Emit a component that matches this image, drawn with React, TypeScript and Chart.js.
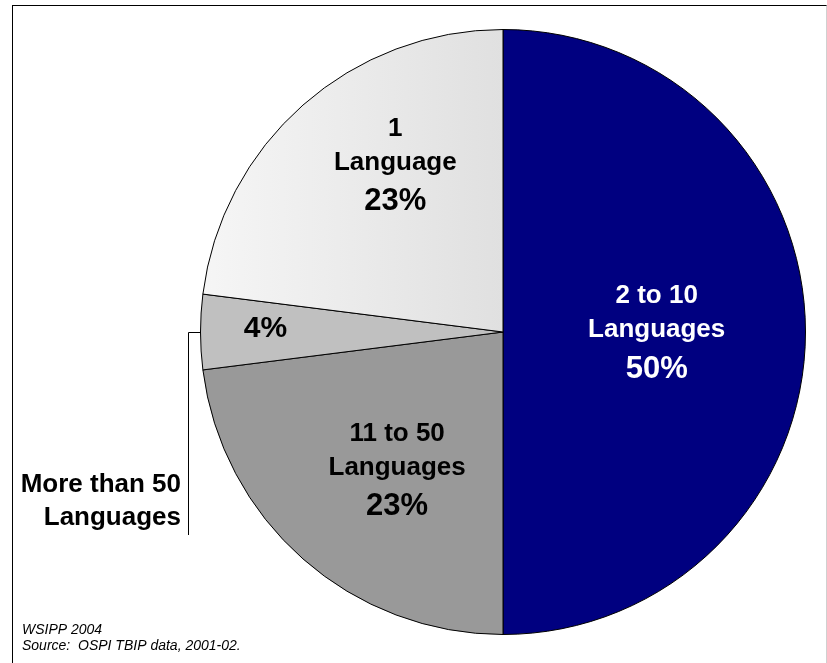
import React, { useEffect, useRef } from "react";
import { Chart, registerables } from "chart.js";

Chart.register(...registerables);

const categories = ["2 to 10 Languages", "11 to 50 Languages", "More than 50 Languages", "1 Language"];
const shares = [50, 23, 4, 23];
const sliceColors = ["#000080", "#999999", "#c0c0c0", "#e6e6e6"];
const labelLines = [["2 to 10", "Languages"], ["11 to 50", "Languages"], [], ["1", "Language"]];
const labelColors = ["#ffffff", "#000000", "#000000", "#000000"];
// label anchors as fractions of the radius, relative to the pie centre
const labelAnchors = [[0.508, 0.0], [-0.35, 0.455], [-0.785, -0.01], [-0.356, -0.554]];
const footnotes = ["WSIPP 2004", "Source:  OSPI TBIP data, 2001-02."];
const FONT = "'Liberation Sans', Arial, sans-serif";

const labelPlugin = {
  id: "sliceLabels",
  afterDatasetsDraw(chart: any) {
    const ctx = chart.ctx;
    const meta = chart.getDatasetMeta(0);
    const arc0 = meta.data[0];
    const cx = arc0.x, cy = arc0.y, r = arc0.outerRadius;
    ctx.save();
    ctx.textAlign = "center";
    ctx.textBaseline = "middle";
    shares.forEach((v, i) => {
      const ax = cx + labelAnchors[i][0] * r;
      const ay = cy + labelAnchors[i][1] * r;
      const lines = labelLines[i];
      ctx.fillStyle = labelColors[i];
      if (lines.length === 0) {
        ctx.font = `bold 30px ${FONT}`;
        ctx.fillText(`${v}%`, ax, ay);
      } else {
        ctx.font = `bold 26px ${FONT}`;
        ctx.fillText(lines[0], ax, ay - 36);
        ctx.fillText(lines[1], ax, ay - 2);
        ctx.font = `bold 31px ${FONT}`;
        ctx.fillText(`${v}%`, ax, ay + 37);
      }
    });
    // outside label for small slice with leader line
    const small = meta.data[2];
    const ex = cx - small.outerRadius;
    ctx.strokeStyle = "#000";
    ctx.lineWidth = 1;
    ctx.beginPath();
    ctx.moveTo(ex, Math.round(cy) + 0.5);
    ctx.lineTo(188.5, Math.round(cy) + 0.5);
    ctx.lineTo(188.5, 535);
    ctx.stroke();
    ctx.fillStyle = "#000";
    ctx.textAlign = "right";
    ctx.font = `bold 26px ${FONT}`;
    ctx.fillText("More than 50", 181, 485);
    ctx.fillText("Languages", 181, 518);
    // footnotes
    ctx.textAlign = "left";
    ctx.font = `italic 14px ${FONT}`;
    ctx.fillText(footnotes[0], 22, 630);
    ctx.fillText(footnotes[1], 22, 646);
    ctx.restore();
  },
};

export default function App() {
  const ref = useRef<HTMLCanvasElement>(null);
  useEffect(() => {
    if (!ref.current) return;
    const chart = new Chart(ref.current, {
      type: "pie",
      data: {
        labels: categories,
        datasets: [
          {
            data: shares,
            backgroundColor: (c: any) => {
              const i = c.dataIndex;
              if (i === 3 && c.chart.chartArea) {
                const g = c.chart.ctx.createLinearGradient(200, 0, 503, 0);
                g.addColorStop(0, "#f6f6f6");
                g.addColorStop(1, "#e0e0e0");
                return g;
              }
              return sliceColors[i];
            },
            borderColor: "#000000",
            borderWidth: 1,
          },
        ],
      },
      options: {
        animation: false,
        responsive: false,
        maintainAspectRatio: false,
        layout: { padding: { left: 200, right: 21, top: 29, bottom: 28 } },
        plugins: {
          legend: { display: false },
          tooltip: { enabled: false },
        },
      },
      plugins: [labelPlugin],
    });
    return () => chart.destroy();
  }, []);
  return (
    <div style={{ position: "fixed", left: 0, top: 0, width: 827, height: 663, background: "#fff", overflow: "hidden" }}>
      <div
        style={{
          position: "absolute",
          left: 12,
          top: 5,
          width: 813,
          height: 700,
          borderLeft: "1px solid #000",
          borderTop: "1px solid #000",
          borderRight: "1px solid #d0d0d0",
        }}
      />
      <canvas ref={ref} width={827} height={663} style={{ position: "absolute", left: 0, top: 0 }} />
    </div>
  );
}
